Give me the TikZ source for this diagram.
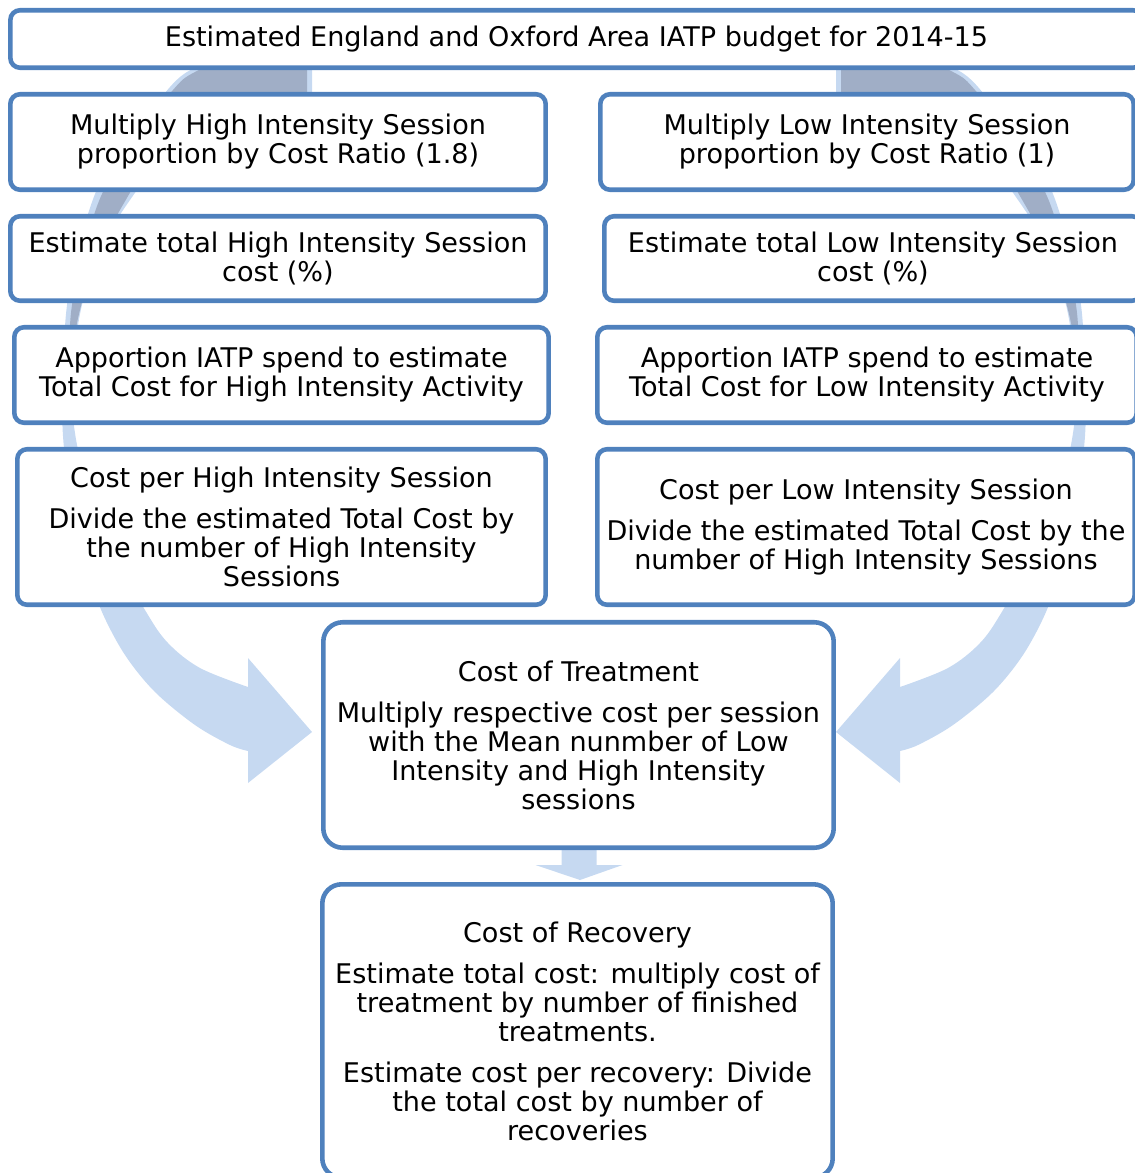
\documentclass[tikz,border=0pt]{standalone}
\usepackage{fontspec}
\setmainfont{DejaVu Sans}
\usetikzlibrary{calc,backgrounds}
\definecolor{bordc}{HTML}{4F81BD}
\definecolor{arrowc}{HTML}{C6D9F1}
\definecolor{backc}{HTML}{A0AEC6}
\tikzset{
  rbox/.style={draw=bordc, line width=2.6pt, fill=white, rounded corners=5.5pt,
    align=center, inner sep=0pt, font=\fontsize{15.4pt}{16.5pt}\selectfont},
  cbox/.style={rbox, rounded corners=11pt},
}
\newcommand{\pgap}{\\[6.8pt]}
\newcommand{\bigcurvedarrow}{%
\fill[arrowc] plot[smooth, tension=0.55] coordinates {(312,42) (250,52) (187,72) (150,112) (118,152) (95,194) (75,260) (66,314) (63,380) (63,436) (72,510) (88,570) (102,612) (125,655) (155,692) (195,725) (230,745) (248,751)}
  -- (248,783) -- (312,732) -- (248,658)
  -- plot[smooth, tension=0.55] coordinates {(248,687) (200,668) (168,643) (145,610) (100,530) (78,450) (72,390) (80,314) (100,250) (130,200) (170,150) (230,115) (312,100)} -- cycle;
\fill[backc] plot[smooth, tension=0.55] coordinates {(307,42) (250,50) (195,72) (173,90) (135,140) (102,194) (84,250) (72,305) (69,350) (69,395)}
  -- plot[smooth, tension=0.55] coordinates {(69,395) (73,350) (79,314) (95,260) (124,203) (160,150) (220,112) (307,100)} -- cycle;}
\begin{document}
\begin{tikzpicture}[x=0.02cm,y=-0.02cm]
\useasboundingbox (0,0) rectangle (1134,1173);
% big curved arrows (left, then mirrored right)
\begin{scope}
\bigcurvedarrow
\end{scope}
\begin{scope}[shift={(1148,0)},xscale=-1]
\bigcurvedarrow
\end{scope}
% boxes
\node[rbox, minimum width=22.65cm, minimum height=1.15cm] (top) at (576.5,39) {Estimated England and Oxford Area IATP budget for 2014-15};
\node[rbox, minimum width=10.71cm, minimum height=1.91cm] (h1) at (278,142) {Multiply High Intensity Session\\ proportion by Cost Ratio (1.8)};
\node[rbox, minimum width=10.67cm, minimum height=1.91cm] (l1) at (867,142) {Multiply Low Intensity Session\\ proportion by Cost Ratio (1)};
\node[rbox, minimum width=10.71cm, minimum height=1.69cm] (h2) at (278,258.5) {Estimate total High Intensity Session\\ cost (\%)};
\node[rbox, minimum width=10.75cm, minimum height=1.69cm] (l2) at (873,258.5) {Estimate total Low Intensity Session\\ cost (\%)};
\node[rbox, minimum width=10.69cm, minimum height=1.91cm] (h3) at (281.5,375) {Apportion IATP spend to estimate\\ Total Cost for High Intensity Activity};
\node[rbox, minimum width=10.79cm, minimum height=1.91cm] (l3) at (867,375) {Apportion IATP spend to estimate\\ Total Cost for Low Intensity Activity};
\node[rbox, minimum width=10.57cm, minimum height=3.11cm] (h4) at (281.5,527) {Cost per High Intensity Session\pgap Divide the estimated Total Cost by\\ the number of High Intensity\\ Sessions};
\node[rbox, minimum width=10.75cm, minimum height=3.11cm] (l4) at (866,527) {Cost per Low Intensity Session\pgap Divide the estimated Total Cost by the\\ number of High Intensity Sessions};
\node[cbox, minimum width=10.21cm, minimum height=4.51cm] (treat) at (578.5,735) {Cost of Treatment\pgap Multiply respective cost per session\\ with the Mean nunmber of Low\\ Intensity and High Intensity\\ sessions};
\node[cbox, minimum width=10.21cm, minimum height=5.87cm] (recov) at (577.5,1031) {Cost of Recovery\pgap Estimate total cost: multiply cost of\\ treatment by number of finished\\ treatments.\pgap Estimate cost per recovery: Divide\\ the total cost by number of\\ recoveries};
% small down arrow between treatment and recovery
\begin{scope}[on background layer]
\fill[arrowc] ($(recov.north)+(-16,-40)$) -- ++(35,0) -- ++(0,23) -- ++(26,0)
  -- ($(recov.north)+(2.5,-2)$) -- ($(recov.north)+(-42,-17)$) -- ++(26,0) -- cycle;
\end{scope}
\end{tikzpicture}
\end{document}
